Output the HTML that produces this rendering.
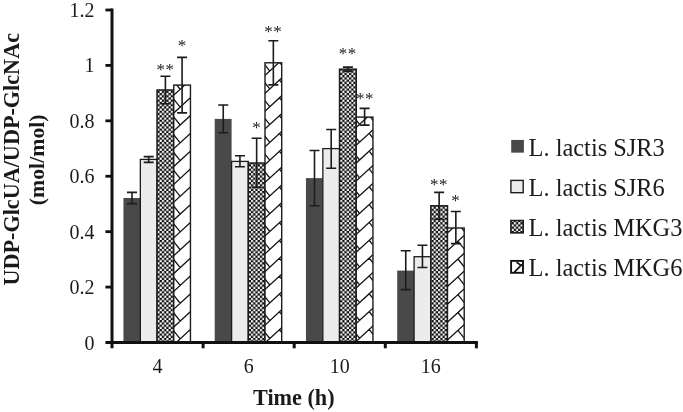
<!DOCTYPE html>
<html><head><meta charset="utf-8"><title>UDP-GlcUA/UDP-GlcNAc chart</title>
<style>html,body{margin:0;padding:0;background:#fff;}svg{display:block;will-change:transform;}text{font-family:"Liberation Serif",serif;fill:#1a1a1a;}</style></head><body>
<svg width="683" height="412" viewBox="0 0 683 412">
<rect width="683" height="412" fill="#fff"/>
<defs>
<pattern id="chk" patternUnits="userSpaceOnUse" x="1.456" y="3.816" width="4.455" height="4.455"><rect width="4.455" height="4.455" fill="#0c0c0c"/><rect x="0.04" y="0.04" width="2.147" height="2.147" rx="0.45" fill="#fff"/><rect x="2.268" y="2.268" width="2.147" height="2.147" rx="0.45" fill="#fff"/></pattern>
</defs>
<rect x="123.45" y="198.00" width="16.90" height="144.50" fill="#494949"/>
<rect x="140.35" y="159.40" width="16.70" height="183.10" fill="#ececec" stroke="#1c1c1c" stroke-width="1.3"/>
<rect x="157.05" y="90.00" width="16.70" height="252.50" fill="url(#chk)" stroke="#1c1c1c" stroke-width="1.5"/>
<clipPath id="hc0"><rect x="173.75" y="85.10" width="16.70" height="257.40"/></clipPath>
<rect x="173.75" y="85.10" width="16.70" height="257.40" fill="#fff"/>
<path clip-path="url(#hc0)" d="M172.75 78.29L191.45 61.09M171.95 61.20L180.15 71.48M189.78 44.79L197.98 55.08M172.75 96.12L191.45 78.92M171.95 79.03L180.15 89.31M189.78 62.62L197.98 72.91M172.75 113.95L191.45 96.75M171.95 96.86L180.15 107.14M189.78 80.45L197.98 90.74M172.75 131.78L191.45 114.58M171.95 114.69L180.15 124.97M189.78 98.28L197.98 108.57M172.75 149.61L191.45 132.41M171.95 132.52L180.15 142.80M189.78 116.11L197.98 126.40M172.75 167.44L191.45 150.24M171.95 150.35L180.15 160.63M189.78 133.94L197.98 144.23M172.75 185.27L191.45 168.07M171.95 168.18L180.15 178.46M189.78 151.77L197.98 162.06M172.75 203.10L191.45 185.90M171.95 186.01L180.15 196.29M189.78 169.60L197.98 179.89M172.75 220.93L191.45 203.73M171.95 203.84L180.15 214.12M189.78 187.43L197.98 197.72M172.75 238.76L191.45 221.56M171.95 221.67L180.15 231.95M189.78 205.26L197.98 215.55M172.75 256.59L191.45 239.39M171.95 239.50L180.15 249.78M189.78 223.09L197.98 233.38M172.75 274.42L191.45 257.22M171.95 257.33L180.15 267.61M189.78 240.92L197.98 251.21M172.75 292.25L191.45 275.05M171.95 275.16L180.15 285.44M189.78 258.75L197.98 269.04M172.75 310.08L191.45 292.88M171.95 292.99L180.15 303.27M189.78 276.58L197.98 286.87M172.75 327.91L191.45 310.71M171.95 310.82L180.15 321.10M189.78 294.41L197.98 304.70M172.75 345.74L191.45 328.54M171.95 328.65L180.15 338.93M189.78 312.24L197.98 322.53M172.75 363.57L191.45 346.37M171.95 346.48L180.15 356.76M189.78 330.07L197.98 340.36M172.75 381.40L191.45 364.20M171.95 364.31L180.15 374.59M189.78 347.90L197.98 358.19" stroke="#151515" stroke-width="1.3" fill="none"/>
<rect x="173.75" y="85.10" width="16.70" height="257.40" fill="none" stroke="#1c1c1c" stroke-width="1.4"/>
<rect x="214.70" y="118.90" width="16.90" height="223.60" fill="#494949"/>
<rect x="231.60" y="161.40" width="16.70" height="181.10" fill="#ececec" stroke="#1c1c1c" stroke-width="1.3"/>
<rect x="248.30" y="163.00" width="16.70" height="179.50" fill="url(#chk)" stroke="#1c1c1c" stroke-width="1.5"/>
<clipPath id="hc1"><rect x="265.00" y="62.80" width="16.70" height="279.70"/></clipPath>
<rect x="265.00" y="62.80" width="16.70" height="279.70" fill="#fff"/>
<path clip-path="url(#hc1)" d="M264.00 58.56L282.70 41.36M261.60 42.94L269.80 53.22M279.43 26.53L287.63 36.82M264.00 76.39L282.70 59.19M261.60 60.77L269.80 71.05M279.43 44.36L287.63 54.65M264.00 94.22L282.70 77.02M261.60 78.60L269.80 88.88M279.43 62.19L287.63 72.48M264.00 112.05L282.70 94.85M261.60 96.43L269.80 106.71M279.43 80.02L287.63 90.31M264.00 129.88L282.70 112.68M261.60 114.26L269.80 124.54M279.43 97.85L287.63 108.14M264.00 147.71L282.70 130.51M261.60 132.09L269.80 142.37M279.43 115.68L287.63 125.97M264.00 165.54L282.70 148.34M261.60 149.92L269.80 160.20M279.43 133.51L287.63 143.80M264.00 183.37L282.70 166.17M261.60 167.75L269.80 178.03M279.43 151.34L287.63 161.63M264.00 201.20L282.70 184.00M261.60 185.58L269.80 195.86M279.43 169.17L287.63 179.46M264.00 219.03L282.70 201.83M261.60 203.41L269.80 213.69M279.43 187.00L287.63 197.29M264.00 236.86L282.70 219.66M261.60 221.24L269.80 231.52M279.43 204.83L287.63 215.12M264.00 254.69L282.70 237.49M261.60 239.07L269.80 249.35M279.43 222.66L287.63 232.95M264.00 272.52L282.70 255.32M261.60 256.90L269.80 267.18M279.43 240.49L287.63 250.78M264.00 290.35L282.70 273.15M261.60 274.73L269.80 285.01M279.43 258.32L287.63 268.61M264.00 308.18L282.70 290.98M261.60 292.56L269.80 302.84M279.43 276.15L287.63 286.44M264.00 326.01L282.70 308.81M261.60 310.39L269.80 320.67M279.43 293.98L287.63 304.27M264.00 343.84L282.70 326.64M261.60 328.22L269.80 338.50M279.43 311.81L287.63 322.10M264.00 361.67L282.70 344.47M261.60 346.05L269.80 356.33M279.43 329.64L287.63 339.93M264.00 379.50L282.70 362.30M261.60 363.88L269.80 374.16M279.43 347.47L287.63 357.76" stroke="#151515" stroke-width="1.3" fill="none"/>
<rect x="265.00" y="62.80" width="16.70" height="279.70" fill="none" stroke="#1c1c1c" stroke-width="1.4"/>
<rect x="305.95" y="178.10" width="16.90" height="164.40" fill="#494949"/>
<rect x="322.85" y="148.60" width="16.70" height="193.90" fill="#ececec" stroke="#1c1c1c" stroke-width="1.3"/>
<rect x="339.55" y="69.20" width="16.70" height="273.30" fill="url(#chk)" stroke="#1c1c1c" stroke-width="1.5"/>
<clipPath id="hc2"><rect x="356.25" y="117.10" width="16.70" height="225.40"/></clipPath>
<rect x="356.25" y="117.10" width="16.70" height="225.40" fill="#fff"/>
<path clip-path="url(#hc2)" d="M355.25 110.45L373.95 93.25M351.35 96.21L359.55 106.49M369.18 79.80L377.38 90.09M355.25 128.28L373.95 111.08M351.35 114.04L359.55 124.32M369.18 97.63L377.38 107.92M355.25 146.11L373.95 128.91M351.35 131.87L359.55 142.15M369.18 115.46L377.38 125.75M355.25 163.94L373.95 146.74M351.35 149.70L359.55 159.98M369.18 133.29L377.38 143.58M355.25 181.77L373.95 164.57M351.35 167.53L359.55 177.81M369.18 151.12L377.38 161.41M355.25 199.60L373.95 182.40M351.35 185.36L359.55 195.64M369.18 168.95L377.38 179.24M355.25 217.43L373.95 200.23M351.35 203.19L359.55 213.47M369.18 186.78L377.38 197.07M355.25 235.26L373.95 218.06M351.35 221.02L359.55 231.30M369.18 204.61L377.38 214.90M355.25 253.09L373.95 235.89M351.35 238.85L359.55 249.13M369.18 222.44L377.38 232.73M355.25 270.92L373.95 253.72M351.35 256.68L359.55 266.96M369.18 240.27L377.38 250.56M355.25 288.75L373.95 271.55M351.35 274.51L359.55 284.79M369.18 258.10L377.38 268.39M355.25 306.58L373.95 289.38M351.35 292.34L359.55 302.62M369.18 275.93L377.38 286.22M355.25 324.41L373.95 307.21M351.35 310.17L359.55 320.45M369.18 293.76L377.38 304.05M355.25 342.24L373.95 325.04M351.35 328.00L359.55 338.28M369.18 311.59L377.38 321.88M355.25 360.07L373.95 342.87M351.35 345.83L359.55 356.11M369.18 329.42L377.38 339.71M355.25 377.90L373.95 360.70M351.35 363.66L359.55 373.94M369.18 347.25L377.38 357.54" stroke="#151515" stroke-width="1.3" fill="none"/>
<rect x="356.25" y="117.10" width="16.70" height="225.40" fill="none" stroke="#1c1c1c" stroke-width="1.4"/>
<rect x="397.20" y="270.60" width="16.90" height="71.90" fill="#494949"/>
<rect x="414.10" y="256.70" width="16.70" height="85.80" fill="#ececec" stroke="#1c1c1c" stroke-width="1.3"/>
<rect x="430.80" y="205.80" width="16.70" height="136.70" fill="url(#chk)" stroke="#1c1c1c" stroke-width="1.5"/>
<clipPath id="hc3"><rect x="447.50" y="228.00" width="16.70" height="114.50"/></clipPath>
<rect x="447.50" y="228.00" width="16.70" height="114.50" fill="#fff"/>
<path clip-path="url(#hc3)" d="M446.50 216.03L465.20 198.83M440.10 204.09L448.30 214.37M457.93 187.68L466.13 197.97M446.50 233.86L465.20 216.66M440.10 221.92L448.30 232.20M457.93 205.51L466.13 215.80M446.50 251.69L465.20 234.49M440.10 239.75L448.30 250.03M457.93 223.34L466.13 233.63M446.50 269.52L465.20 252.32M440.10 257.58L448.30 267.86M457.93 241.17L466.13 251.46M446.50 287.35L465.20 270.15M440.10 275.41L448.30 285.69M457.93 259.00L466.13 269.29M446.50 305.18L465.20 287.98M440.10 293.24L448.30 303.52M457.93 276.83L466.13 287.12M446.50 323.01L465.20 305.81M440.10 311.07L448.30 321.35M457.93 294.66L466.13 304.95M446.50 340.84L465.20 323.64M440.10 328.90L448.30 339.18M457.93 312.49L466.13 322.78M446.50 358.67L465.20 341.47M440.10 346.73L448.30 357.01M457.93 330.32L466.13 340.61M446.50 376.50L465.20 359.30M440.10 364.56L448.30 374.84M457.93 348.15L466.13 358.44" stroke="#151515" stroke-width="1.3" fill="none"/>
<rect x="447.50" y="228.00" width="16.70" height="114.50" fill="none" stroke="#1c1c1c" stroke-width="1.4"/>
<path d="M132.00 192.40V203.60M127.00 192.40H137.00M127.00 203.60H137.00" stroke="#1c1c1c" stroke-width="1.6" fill="none"/>
<path d="M148.70 156.60V162.40M143.70 156.60H153.70M143.70 162.40H153.70" stroke="#1c1c1c" stroke-width="1.6" fill="none"/>
<path d="M165.40 76.20V103.80M160.40 76.20H170.40M160.40 103.80H170.40" stroke="#1c1c1c" stroke-width="1.6" fill="none"/>
<path d="M182.10 57.40V112.90M177.10 57.40H187.10M177.10 112.90H187.10" stroke="#1c1c1c" stroke-width="1.6" fill="none"/>
<path d="M223.25 105.00V132.70M218.25 105.00H228.25M218.25 132.70H228.25" stroke="#1c1c1c" stroke-width="1.6" fill="none"/>
<path d="M239.95 155.80V166.80M234.95 155.80H244.95M234.95 166.80H244.95" stroke="#1c1c1c" stroke-width="1.6" fill="none"/>
<path d="M256.65 138.20V187.30M251.65 138.20H261.65M251.65 187.30H261.65" stroke="#1c1c1c" stroke-width="1.6" fill="none"/>
<path d="M273.35 40.80V84.90M268.35 40.80H278.35M268.35 84.90H278.35" stroke="#1c1c1c" stroke-width="1.6" fill="none"/>
<path d="M314.50 150.50V205.80M309.50 150.50H319.50M309.50 205.80H319.50" stroke="#1c1c1c" stroke-width="1.6" fill="none"/>
<path d="M331.20 129.50V168.20M326.20 129.50H336.20M326.20 168.20H336.20" stroke="#1c1c1c" stroke-width="1.6" fill="none"/>
<path d="M347.90 67.10V71.10M342.90 67.10H352.90M342.90 71.10H352.90" stroke="#1c1c1c" stroke-width="1.6" fill="none"/>
<path d="M364.60 108.40V125.10M359.60 108.40H369.60M359.60 125.10H369.60" stroke="#1c1c1c" stroke-width="1.6" fill="none"/>
<path d="M405.75 250.70V289.60M400.75 250.70H410.75M400.75 289.60H410.75" stroke="#1c1c1c" stroke-width="1.6" fill="none"/>
<path d="M422.45 245.20V267.50M417.45 245.20H427.45M417.45 267.50H427.45" stroke="#1c1c1c" stroke-width="1.6" fill="none"/>
<path d="M439.15 192.40V219.30M434.15 192.40H444.15M434.15 219.30H444.15" stroke="#1c1c1c" stroke-width="1.6" fill="none"/>
<path d="M455.85 211.50V243.60M450.85 211.50H460.85M450.85 243.60H460.85" stroke="#1c1c1c" stroke-width="1.6" fill="none"/>
<path d="M112.0 8.60V348.30" stroke="#111" stroke-width="3" fill="none"/>
<path d="M105.4 342.5H477.90" stroke="#111" stroke-width="2.8" fill="none"/>
<path d="M105.4 10.00H112.0" stroke="#111" stroke-width="2.8" fill="none"/>
<path d="M105.4 65.42H112.0" stroke="#111" stroke-width="2.8" fill="none"/>
<path d="M105.4 120.83H112.0" stroke="#111" stroke-width="2.8" fill="none"/>
<path d="M105.4 176.25H112.0" stroke="#111" stroke-width="2.8" fill="none"/>
<path d="M105.4 231.67H112.0" stroke="#111" stroke-width="2.8" fill="none"/>
<path d="M105.4 287.08H112.0" stroke="#111" stroke-width="2.8" fill="none"/>
<path d="M203.10 342.5V348.30" stroke="#111" stroke-width="3" fill="none"/>
<path d="M294.20 342.5V348.30" stroke="#111" stroke-width="3" fill="none"/>
<path d="M385.30 342.5V348.30" stroke="#111" stroke-width="3" fill="none"/>
<path d="M476.40 342.5V348.30" stroke="#111" stroke-width="3" fill="none"/>
<text x="94.6" y="17.00" font-size="20" text-anchor="end">1.2</text>
<text x="94.6" y="72.42" font-size="20" text-anchor="end">1</text>
<text x="94.6" y="127.83" font-size="20" text-anchor="end">0.8</text>
<text x="94.6" y="183.25" font-size="20" text-anchor="end">0.6</text>
<text x="94.6" y="238.67" font-size="20" text-anchor="end">0.4</text>
<text x="94.6" y="294.08" font-size="20" text-anchor="end">0.2</text>
<text x="94.6" y="349.50" font-size="20" text-anchor="end">0</text>
<text x="157.55" y="373.2" font-size="20" text-anchor="middle">4</text>
<text x="248.65" y="373.2" font-size="20" text-anchor="middle">6</text>
<text x="339.75" y="373.2" font-size="20" text-anchor="middle">10</text>
<text x="430.85" y="373.2" font-size="20" text-anchor="middle">16</text>
<text x="165.50" y="74.80" font-size="17" letter-spacing="0.5" text-anchor="middle">**</text>
<text x="182.20" y="50.80" font-size="17" letter-spacing="0.5" text-anchor="middle">*</text>
<text x="256.80" y="132.80" font-size="17" letter-spacing="0.5" text-anchor="middle">*</text>
<text x="273.25" y="36.90" font-size="17" letter-spacing="0.5" text-anchor="middle">**</text>
<text x="347.75" y="58.80" font-size="17" letter-spacing="0.5" text-anchor="middle">**</text>
<text x="365.00" y="103.70" font-size="17" letter-spacing="0.5" text-anchor="middle">**</text>
<text x="438.95" y="190.40" font-size="17" letter-spacing="0.5" text-anchor="middle">**</text>
<text x="455.65" y="206.10" font-size="17" letter-spacing="0.5" text-anchor="middle">*</text>
<text x="293.8" y="405" font-size="22.2" font-weight="bold" text-anchor="middle">Time (h)</text>
<text transform="translate(18.8,159.3) rotate(-90)" font-size="22.2" font-weight="bold" text-anchor="middle">UDP-GlcUA/UDP-GlcNAc</text>
<text transform="translate(44.3,159.8) rotate(-90)" font-size="21.8" font-weight="bold" text-anchor="middle">(mol/mol)</text>
<rect x="511.2" y="139.95" width="12.7" height="12.7" fill="#494949"/>
<text x="528.6" y="155.60" font-size="24.4">L. lactis SJR3</text>
<rect x="510.9" y="180.40" width="12.3" height="12.3" fill="#ececec" stroke="#1c1c1c" stroke-width="1.4"/>
<text x="528.6" y="195.65" font-size="24.4">L. lactis SJR6</text>
<rect x="510.9" y="220.55" width="12.3" height="12.3" fill="url(#chk)" stroke="#1c1c1c" stroke-width="1.6"/>
<text x="528.6" y="235.70" font-size="24.4">L. lactis MKG3</text>
<rect x="511.1" y="260.90" width="11.9" height="11.9" fill="#fff" stroke="#111" stroke-width="1.9"/>
<path d="M514.4 272.10L522.0 264.30M516.6 262.30L520.4 264.90L522.2 265.10" stroke="#111" stroke-width="1.7" fill="none"/>
<text x="528.6" y="275.75" font-size="24.4">L. lactis MKG6</text>
</svg></body></html>
